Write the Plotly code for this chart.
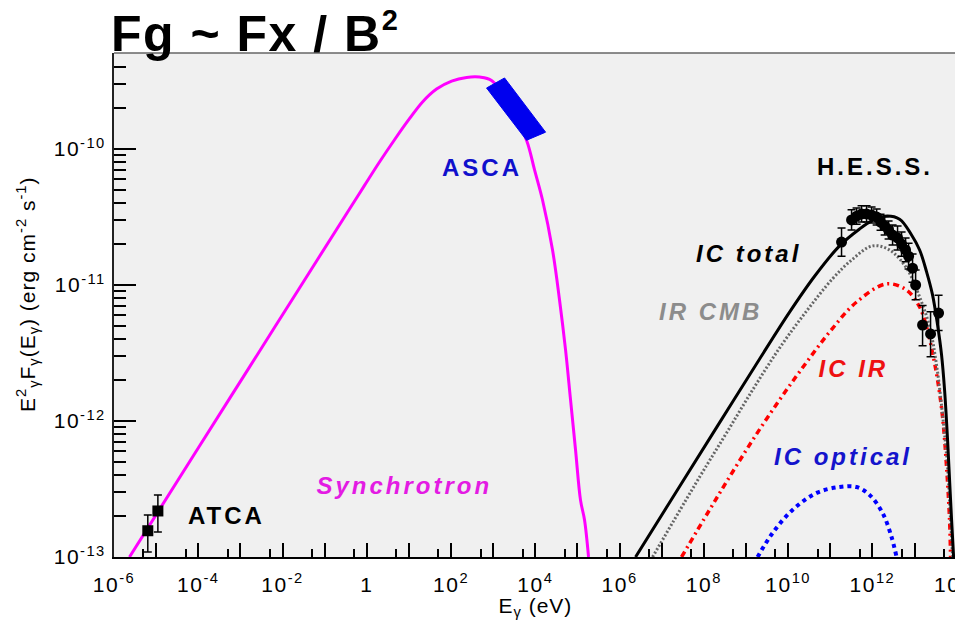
import plotly.graph_objects as go

# ---------------- data (E in eV, E^2 F in erg cm^-2 s^-1) ----------------
# Synchrotron model
sync_energy = [2.33e-6, 1.07e-4, 1.64e-3, 2.53e-2, 0.389, 0.883, 2.00, 4.55, 10.3, 21.0,
               45.2, 103, 233, 474, 912, 2.44e3, 6.18e3, 9.57e3, 1.48e4, 2.56e4, 3.75e4,
               5.21e4, 6.85e4, 9.00e4, 1.18e5, 1.47e5, 1.83e5]
sync_flux = [1.00e-13, 6.55e-13, 2.49e-12, 9.51e-12, 3.62e-11, 5.40e-11, 8.02e-11,
             1.17e-10, 1.67e-10, 2.22e-10, 2.76e-10, 3.16e-10, 3.36e-10, 3.38e-10,
             3.19e-10, 2.11e-10, 1.16e-10, 7.02e-11, 4.22e-11, 1.81e-11, 7.76e-12,
             3.33e-12, 1.43e-12, 6.12e-13, 2.62e-13, 1.87e-13, 1.00e-13]

# Inverse Compton: total
ic_total_energy = [2.39e6, 2.65e7, 2.36e8, 2.10e9, 1.08e10, 4.24e10, 1.66e11, 4.95e11,
                   9.55e11, 1.95e12, 4.42e12, 8.49e12, 1.32e13, 1.93e13, 2.68e13,
                   3.52e13, 4.38e13, 5.16e13, 6.08e13, 6.78e13, 7.57e13, 8.45e13]
ic_total_flux = [1.00e-13, 3.30e-13, 9.73e-13, 2.86e-12, 6.32e-12, 1.16e-11, 1.94e-11,
                 2.58e-11, 2.96e-11, 3.21e-11, 3.05e-11, 2.33e-11, 1.81e-11, 1.25e-11,
                 8.43e-12, 5.08e-12, 3.05e-12, 1.69e-12, 7.24e-13, 3.68e-13, 1.87e-13,
                 1.00e-13]

# Inverse Compton: CMB component
ic_cmb_energy = [6.05e6, 7.89e7, 3.45e8, 1.43e9, 6.25e9, 2.74e10, 1.13e11, 3.38e11,
                 1.01e12, 2.55e12, 6.47e12, 1.32e13, 2.28e13, 3.33e13, 4.62e13,
                 6.08e13, 7.16e13, 8.00e13]
ic_cmb_flux = [1.00e-13, 3.87e-13, 8.17e-13, 1.69e-12, 3.44e-12, 6.44e-12, 1.11e-11,
               1.55e-11, 1.94e-11, 1.81e-11, 1.33e-11, 8.17e-12, 4.91e-12, 2.58e-12,
               1.11e-12, 4.59e-13, 1.87e-13, 1.00e-13]

# Inverse Compton: IR component
ic_ir_energy = [2.95e7, 1.36e8, 4.80e8, 1.60e9, 6.25e9, 2.45e10, 9.62e10, 4.21e11,
                2.17e12, 6.47e12, 1.32e13, 1.93e13, 2.68e13, 3.52e13, 4.62e13,
                5.75e13, 6.78e13, 7.16e13]
ic_ir_flux = [1.00e-13, 2.22e-13, 4.22e-13, 7.62e-13, 1.43e-12, 2.58e-12, 4.51e-12,
              7.50e-12, 1.02e-11, 9.18e-12, 6.89e-12, 4.91e-12, 3.16e-12, 2.00e-12,
              1.07e-12, 4.59e-13, 1.87e-13, 1.00e-13]

# Inverse Compton: optical component
ic_opt_energy = [1.88e9, 4.27e9, 1.27e10, 4.73e10, 1.66e11, 4.21e11, 8.57e11, 1.74e12,
                 2.85e12, 3.74e12]
ic_opt_flux = [1.00e-13, 1.50e-13, 2.22e-13, 2.96e-13, 3.27e-13, 3.27e-13, 2.86e-13,
               2.11e-13, 1.40e-13, 1.00e-13]

# H.E.S.S. spectral points
hess_energy = [1.85e11, 3.20e11, 4.21e11, 5.53e11, 7.27e11, 9.55e11, 1.26e12, 1.56e12,
               1.95e12, 2.42e12, 3.01e12, 3.95e12, 4.92e12, 6.12e12, 7.21e12, 8.97e12,
               1.06e13, 1.55e13, 2.40e13, 3.72e13]
hess_flux = [2.07e-11, 3.01e-11, 3.21e-11, 3.33e-11, 3.33e-11, 3.27e-11, 3.16e-11,
             2.90e-11, 2.72e-11, 2.54e-11, 2.33e-11, 2.22e-11, 2.00e-11, 1.81e-11,
             1.63e-11, 1.33e-11, 1.00e-11, 5.08e-12, 4.37e-12, 6.22e-12]
hess_err_up = [5.5e-12, 5.6e-12, 4.7e-12, 4.9e-12, 4.9e-12, 4.7e-12, 4.6e-12, 4.2e-12,
               4.5e-12, 4.2e-12, 4.3e-12, 5.0e-12, 4.5e-12, 4.1e-12, 4.0e-12, 3.6e-12,
               2.9e-12, 2.0e-12, 2.0e-12, 2.2e-12]
hess_err_down = [4.4e-12, 4.7e-12, 4.1e-12, 4.2e-12, 4.2e-12, 4.1e-12, 4.0e-12, 3.7e-12,
                 3.9e-12, 3.6e-12, 3.6e-12, 4.1e-12, 3.7e-12, 3.3e-12, 3.2e-12, 2.8e-12,
                 2.2e-12, 1.5e-12, 1.4e-12, 1.6e-12]

# ATCA radio points
atca_energy = [6.34e-6, 1.10e-5]
atca_flux = [1.56e-13, 2.18e-13]
atca_err_up = [0.48e-13, 0.68e-13]
atca_err_down = [0.47e-13, 0.65e-13]

# ASCA X-ray band (corners of the band)
asca_energy = [695, 1.86e3, 1.75e4, 6.18e3, 695]
asca_flux = [2.81e-10, 3.33e-10, 1.33e-10, 1.16e-10, 2.81e-10]

# axis ticks
x_tick_vals = [1e-6, 1e-5, 1e-4, 1e-3, 1e-2, 1e-1, 1, 10, 1e2, 1e3, 1e4, 1e5, 1e6,
               1e7, 1e8, 1e9, 1e10, 1e11, 1e12, 1e13]
x_tick_text = ["10<sup>-6</sup>", "", "10<sup>-4</sup>", "", "10<sup>-2</sup>", "", "1", "",
               "10<sup>2</sup>", "", "10<sup>4</sup>", "", "10<sup>6</sup>", "",
               "10<sup>8</sup>", "", "10<sup>10</sup>", "", "10<sup>12</sup>", ""]
x_minor_vals = [5 * v for v in x_tick_vals]
y_tick_vals = [1e-13, 1e-12, 1e-11, 1e-10]
y_tick_text = ["10<sup>-13</sup>", "10<sup>-12</sup>", "10<sup>-11</sup>", "10<sup>-10</sup>"]
y_minor_vals = [k * d for d in y_tick_vals for k in range(2, 10)]

# ---------------- layout geometry ----------------
W, H = 955, 623
L, R, T, B = 114, 0, 53, 66
PW, PH = W - L - R, H - T - B
FONT = "Liberation Sans"


def paper(px, py):
    return (px - L) / PW, (H - B - py) / PH


def curve(x, y, color, width, dash="solid"):
    return go.Scatter(x=x, y=y, mode="lines",
                      line=dict(color=color, width=width, dash=dash,
                                shape="spline", smoothing=1.0))


fig = go.Figure()
fig.add_trace(curve(sync_energy, sync_flux, "#ff00ff", 3))
fig.add_trace(curve(ic_opt_energy, ic_opt_flux, "#0000ff", 4, "4px,4px"))
fig.add_trace(curve(ic_ir_energy, ic_ir_flux, "#ff0000", 3.5, "6px,4px,2px,4px"))
fig.add_trace(curve(ic_cmb_energy, ic_cmb_flux, "#666666", 3, "2px,2px"))
fig.add_trace(curve(ic_total_energy, ic_total_flux, "black", 3))
fig.add_trace(go.Scatter(x=asca_energy, y=asca_flux, mode="lines", fill="toself",
                         fillcolor="#0000ee", line=dict(color="#0000ee", width=1)))
fig.add_trace(go.Scatter(x=hess_energy, y=hess_flux, mode="markers",
                         marker=dict(color="black", size=11, symbol="circle"),
                         error_y=dict(type="data", symmetric=False, array=hess_err_up,
                                      arrayminus=hess_err_down, color="black",
                                      thickness=1.5, width=4)))
fig.add_trace(go.Scatter(x=atca_energy, y=atca_flux, mode="markers",
                         marker=dict(color="black", size=11, symbol="square"),
                         error_y=dict(type="data", symmetric=False, array=atca_err_up,
                                      arrayminus=atca_err_down, color="black",
                                      thickness=1.5, width=4)))

annotations = []
spacing = {}


def add_label(text, px, py, color, size=24, italic=False, bold=True, ls=3.0,
              xanchor="center", yanchor="middle", angle=0):
    x, y = paper(px, py)
    spacing[len(annotations)] = ls
    annotations.append(dict(
        text=text, x=x, y=y, xref="paper", yref="paper", showarrow=False,
        xanchor=xanchor, yanchor=yanchor, textangle=angle,
        font=dict(family=FONT, size=size, color=color,
                  weight="bold" if bold else "normal",
                  style="italic" if italic else "normal")))


add_label("Fg ~ Fx / B<sup><span style='font-size:29px'>2</span></sup>", 118, 64, "black",
          size=50, ls=1.5, xanchor="left", yanchor="bottom")
add_label("ASCA", 482, 167, "#1010cc")
add_label("H.E.S.S.", 875, 166, "black")
add_label("IC total", 749, 253, "black", italic=True)
add_label("IR CMB", 710, 311, "#8c8c8c", italic=True)
add_label("IC IR", 853, 368, "#ee1111", italic=True)
add_label("IC optical", 843, 456, "#1414cc", italic=True)
add_label("Synchrotron", 404, 485, "#e31be3", italic=True)
add_label("ATCA", 226, 515, "black")
add_label("E<sub>γ</sub> (eV)", 535, 607, "black", size=21, bold=False, ls=1.0)
add_label("E<sup>2</sup><sub>γ</sub>F<sub>γ</sub>(E<sub>γ</sub>) (erg cm<sup>-2</sup> s<sup>-1</sup>)",
          27, 294, "black", size=21, bold=False, ls=1.0, angle=-90)
# last decade label sits on the right border of the frame
add_label("10<sup>14</sup>", 957, 568, "black", size=21, bold=False, ls=1.5, yanchor="top")

axis_font = dict(family=FONT, size=21, color="black")

fig.update_layout(
    width=W, height=H,
    margin=dict(l=L, r=R, t=T, b=B, pad=0),
    paper_bgcolor="white", plot_bgcolor="#f0f0f0",
    showlegend=False,
    annotations=annotations,
    shapes=[dict(type="line", xref="paper", yref="paper", x0=0, x1=1, y0=1, y1=1,
                 line=dict(color="#666666", width=1.5))],
    xaxis=dict(type="log", range=[-6, 13.96], tickmode="array",
               tickvals=x_tick_vals, ticktext=x_tick_text,
               ticks="inside", ticklen=14, tickwidth=1.5, tickcolor="black",
               showline=True, linecolor="black", linewidth=2,
               showgrid=False, zeroline=False, tickfont=axis_font,
               ticklabelstandoff=8,
               minor=dict(tickmode="array", tickvals=x_minor_vals, ticks="inside",
                          ticklen=8, tickwidth=1.5, tickcolor="black", showgrid=False)),
    yaxis=dict(type="log", range=[-13, -9.294], tickmode="array",
               tickvals=y_tick_vals, ticktext=y_tick_text,
               ticks="inside", ticklen=22, tickwidth=1.5, tickcolor="black",
               showline=True, linecolor="#222222", linewidth=2,
               showgrid=False, zeroline=False, tickfont=axis_font,
               ticklabelstandoff=2,
               minor=dict(tickmode="array", tickvals=y_minor_vals, ticks="inside",
                          ticklen=12, tickwidth=1.5, tickcolor="black", showgrid=False)),
)

post_js = """
var gd = document.getElementById('{plot_id}');
var sp = %s;
gd.querySelectorAll('g.annotation').forEach(function (g) {
  var i = g.getAttribute('data-index');
  var t = g.querySelector('text.annotation-text');
  if (t && sp[i] !== undefined) { t.style.letterSpacing = sp[i] + 'px'; }
});
gd.querySelectorAll('g.xtick text, g.ytick text').forEach(function (t) {
  t.style.letterSpacing = '1.5px';
});
""" % {str(k): v for k, v in spacing.items()}.__repr__().replace("'", '"')

fig.write_html("out.html", post_script=post_js)
